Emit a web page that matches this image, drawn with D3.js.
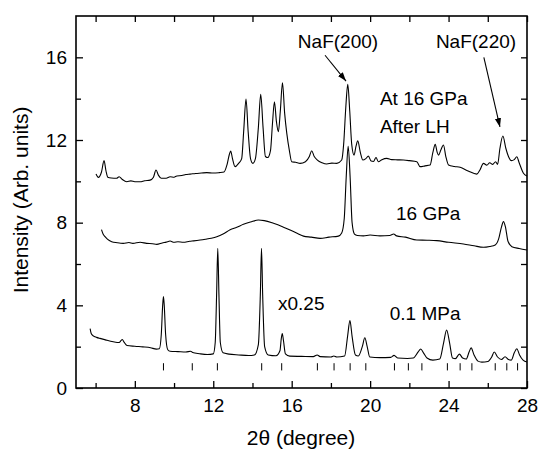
<!DOCTYPE html>
<html>
<head>
<meta charset="utf-8">
<script src="https://cdn.jsdelivr.net/npm/d3@7"></script>
<style>
  html, body { margin: 0; padding: 0; background: #fff; }
  svg { display: block; }
  text { font-family: "Liberation Sans", Arial, Helvetica, sans-serif; fill: #000; }
</style>
</head>
<body>
<svg id="chart" width="539" height="452"></svg>
<script>
// XRD patterns: [2θ (degree), intensity (arb. units)]
const ambientPattern = [ // 0.1 MPa, scaled x0.25
  [5.72,2.87],[5.78,2.62],[5.88,2.52],[6.05,2.45],[6.22,2.40],[6.5,2.33],[6.9,2.24],[7.2,2.2],[7.3,2.3],[7.36,2.35],
  [7.45,2.22],[7.6,2.06],[8.0,2.02],[8.4,1.99],[8.8,1.95],[9.1,1.88],[9.25,1.9],[9.35,2.6],[9.42,4.0],[9.46,4.42],
  [9.5,4.0],[9.57,2.6],[9.68,1.85],[9.8,1.78],[10.2,1.76],[10.6,1.74],[10.85,1.78],[10.95,1.72],[11.3,1.66],[11.7,1.62],
  [12.0,1.65],[12.1,2.2],[12.17,4.5],[12.23,6.76],[12.29,4.5],[12.36,2.2],[12.5,1.7],[12.8,1.64],[13.3,1.6],[13.8,1.57],
  [14.1,1.6],[14.3,2.1],[14.4,4.5],[14.46,6.76],[14.52,4.5],[14.62,2.0],[14.8,1.6],[15.2,1.56],[15.4,1.8],[15.47,2.4],
  [15.52,2.64],[15.58,2.3],[15.68,1.65],[15.9,1.54],[16.5,1.53],[17.1,1.52],[17.3,1.6],[17.45,1.52],[18.0,1.5],[18.15,1.55],
  [18.3,1.5],[18.7,1.55],[18.85,2.5],[18.97,3.26],[19.08,2.5],[19.25,1.6],[19.4,1.55],[19.6,2.0],[19.73,2.43],[19.85,2.0],
  [19.98,1.5],[20.5,1.47],[21.05,1.48],[21.22,1.58],[21.4,1.45],[21.9,1.43],[22.2,1.45],[22.45,1.75],[22.58,1.89],[22.72,1.7],
  [22.9,1.45],[23.2,1.35],[23.55,1.4],[23.75,2.2],[23.9,2.81],[24.05,2.2],[24.2,1.45],[24.35,1.42],[24.55,1.64],[24.72,1.45],
  [24.9,1.4],[25.05,1.75],[25.15,1.94],[25.3,1.6],[25.5,1.3],[25.7,1.25],[26.0,1.28],[26.2,1.5],[26.33,1.74],[26.5,1.5],
  [26.7,1.38],[26.88,1.51],[27.05,1.38],[27.2,1.35],[27.35,1.7],[27.48,1.9],[27.62,1.6],[27.8,1.35],[28.0,1.26]
];

const compressedPattern = [ // 16 GPa
  [6.3,7.66],[6.38,7.45],[6.48,7.32],[6.6,7.2],[6.82,7.08],[7.1,7.03],[7.41,7.0],[7.7,7.04],[7.9,7.0],[8.27,7.05],
  [8.6,7.0],[8.9,6.98],[9.12,6.95],[9.4,7.02],[9.6,7.06],[9.8,7.11],[10.0,7.05],[10.2,7.08],[10.47,7.05],[10.8,7.1],
  [11.0,7.12],[11.33,7.16],[11.6,7.2],[11.9,7.25],[12.18,7.32],[12.5,7.45],[12.86,7.66],[13.2,7.78],[13.54,7.92],[13.9,8.03],
  [14.3,8.13],[14.6,8.1],[15.07,7.97],[15.5,7.82],[15.92,7.64],[16.3,7.48],[16.6,7.35],[17.0,7.3],[17.45,7.24],[17.9,7.3],
  [18.38,7.35],[18.55,7.5],[18.68,8.2],[18.78,10.2],[18.88,11.7],[18.98,10.2],[19.08,8.0],[19.2,7.45],[19.35,7.38],[19.66,7.36],
  [20.0,7.4],[20.5,7.36],[21.0,7.38],[21.2,7.45],[21.35,7.36],[21.8,7.3],[22.38,7.16],[22.9,7.15],[23.4,7.13],[24.0,7.05],
  [24.76,6.97],[25.3,6.88],[25.78,6.81],[26.1,6.85],[26.38,6.92],[26.55,7.2],[26.7,7.8],[26.8,8.05],[26.9,7.8],[27.03,7.1],
  [27.23,6.84],[27.6,6.75],[28.0,6.68]
];

const heatedPattern = [ // at 16 GPa after laser heating
  [6.02,10.35],[6.14,10.19],[6.3,10.45],[6.43,11.0],[6.53,10.5],[6.62,10.2],[6.8,10.16],[7.07,10.15],[7.2,10.22],[7.35,10.1],
  [7.59,9.98],[7.8,10.02],[8.0,9.98],[8.27,9.98],[8.5,10.03],[8.78,10.06],[8.95,10.2],[9.08,10.55],[9.2,10.3],[9.35,10.15],
  [9.6,10.15],[9.8,10.22],[10.0,10.2],[10.14,10.26],[10.4,10.28],[10.6,10.33],[10.82,10.35],[11.1,10.38],[11.4,10.4],[11.67,10.42],
  [12.0,10.4],[12.3,10.42],[12.55,10.45],[12.7,10.8],[12.82,11.3],[12.89,11.47],[12.98,11.1],[13.11,10.71],[13.3,10.88],[13.45,11.1],
  [13.55,12.4],[13.67,13.98],[13.78,12.4],[13.9,11.1],[14.02,10.87],[14.15,11.1],[14.3,12.6],[14.42,14.21],[14.54,12.6],[14.66,11.2],
  [14.78,11.15],[14.92,11.5],[15.02,12.8],[15.12,13.85],[15.22,12.9],[15.32,12.4],[15.42,13.4],[15.53,14.77],[15.64,13.3],[15.75,12.32],
  [15.88,11.5],[16.0,10.95],[16.2,10.92],[16.43,10.87],[16.7,10.95],[16.9,11.2],[17.02,11.48],[17.15,11.2],[17.31,11.03],[17.55,10.9],
  [17.79,10.84],[18.05,10.88],[18.3,10.87],[18.55,11.03],[18.65,11.8],[18.76,13.6],[18.86,14.69],[18.96,13.4],[19.06,11.8],[19.18,11.27],
  [19.28,11.7],[19.37,11.96],[19.5,11.4],[19.63,11.03],[19.78,11.1],[19.91,11.22],[20.05,10.98],[20.17,10.96],[20.3,11.15],[20.42,10.95],
  [20.6,11.05],[20.85,11.11],[21.1,11.05],[21.4,11.04],[21.7,11.03],[22.0,11.0],[22.38,10.95],[22.55,10.71],[22.8,10.75],[23.06,10.79],
  [23.2,11.4],[23.32,11.79],[23.42,11.4],[23.49,11.27],[23.6,11.5],[23.74,11.76],[23.86,11.2],[24.0,10.79],[24.3,10.72],[24.59,10.68],
  [25.0,10.5],[25.44,10.35],[25.6,10.55],[25.78,10.87],[25.95,10.78],[26.1,10.9],[26.25,10.82],[26.4,10.95],[26.5,10.82],[26.62,11.6],
  [26.77,12.19],[26.92,11.6],[27.06,11.19],[27.2,11.0],[27.35,11.05],[27.48,11.19],[27.6,10.9],[27.82,10.39],[28.0,10.26]
];

// Reflection markers under the ambient pattern (2θ positions)
const reflectionPositions = [9.46,10.93,12.21,14.47,15.49,17.31,18.16,18.98,19.78,21.24,21.95,22.64,23.94,24.59,25.19,26.38,26.97,27.52];
const reflectionRange = [0.85, 1.2];

// Axis ticks
const xMajorTicks = [8,12,16,20,24,28];
const xMinorTicks = [6,10,14,18,22,26];
const yMajorTicks = [0,4,8,12,16];
const yMinorTicks = [2,6,10,14];

// Labels
const curveLabels = [
  { text: "At 16 GPa", x: 20.5, y: 13.69 },
  { text: "After LH",  x: 20.5, y: 12.34 },
  { text: "16 GPa",    x: 21.32, y: 8.13 },
  { text: "x0.25",     x: 15.3, y: 3.77 },
  { text: "0.1 MPa",   x: 21.0, y: 3.29 }
];
const peakNotes = [
  { text: "NaF(200)", tx: 18.36, ty: 16.45, from: [17.7, 16.1], to: [18.77, 14.85] },
  { text: "NaF(220)", tx: 25.4,  ty: 16.45, from: [25.8, 16.0], to: [26.62, 12.63] }
];

const svg = d3.select("#chart");
const x = d3.scaleLinear().domain([5, 28]).range([76, 527]);
const y = d3.scaleLinear().domain([0, 18]).range([388, 16]);
const FS = 19;

svg.append("defs").append("marker")
  .attr("id", "arrow").attr("viewBox", "0 0 10 10")
  .attr("refX", 10).attr("refY", 5)
  .attr("markerWidth", 9).attr("markerHeight", 9)
  .attr("markerUnits", "userSpaceOnUse")
  .attr("orient", "auto")
  .append("path").attr("d", "M0,1.5 L10,5 L0,8.5 Z").attr("fill", "#000");

// Patterns
const line = d3.line().x(d => x(d[0])).y(d => y(d[1])).curve(d3.curveMonotoneX);
[ambientPattern, compressedPattern, heatedPattern].forEach(data => {
  svg.append("path").datum(data)
    .attr("d", line)
    .attr("fill", "none").attr("stroke", "#000").attr("stroke-width", 1.1)
    .attr("stroke-linejoin", "round");
});

// Reflection markers
svg.append("g").selectAll("line").data(reflectionPositions).join("line")
  .attr("x1", d => x(d)).attr("x2", d => x(d))
  .attr("y1", y(reflectionRange[0])).attr("y2", y(reflectionRange[1]))
  .attr("stroke", "#000").attr("stroke-width", 1);

// Axes with inward ticks
function styleAxis(g) {
  g.select(".domain").remove();
  g.selectAll(".tick line").attr("stroke", "#000").attr("stroke-width", 1.3);
  g.selectAll("text").style("font-size", FS + "px").attr("fill", "#000");
}
const H = y(0), T = y(18), L = x(5), R = x(28);

svg.append("g").attr("transform", `translate(0,${H})`)
  .call(d3.axisBottom(x).tickValues(xMajorTicks).tickSize(-7).tickPadding(11).tickFormat(d3.format("d")))
  .call(styleAxis);
svg.append("g").attr("transform", `translate(0,${H})`)
  .call(d3.axisBottom(x).tickValues(xMinorTicks).tickSize(-5).tickFormat(""))
  .call(styleAxis);
svg.append("g").attr("transform", `translate(0,${T})`)
  .call(d3.axisTop(x).tickValues(xMajorTicks.concat(xMinorTicks)).tickSize(-6).tickFormat(""))
  .call(styleAxis);

svg.append("g").attr("transform", `translate(${L},0)`)
  .call(d3.axisLeft(y).tickValues(yMajorTicks).tickSize(-7).tickPadding(9).tickFormat(d3.format("d")))
  .call(styleAxis);
svg.append("g").attr("transform", `translate(${L},0)`)
  .call(d3.axisLeft(y).tickValues(yMinorTicks).tickSize(-5).tickFormat(""))
  .call(styleAxis);
svg.append("g").attr("transform", `translate(${R},0)`)
  .call(d3.axisRight(y).tickValues(yMajorTicks.concat(yMinorTicks)).tickSize(-6).tickFormat(""))
  .call(styleAxis);

// Frame
svg.append("rect").attr("x", L).attr("y", T).attr("width", R - L).attr("height", H - T)
  .attr("fill", "none").attr("stroke", "#000").attr("stroke-width", 1.6);

// Axis titles
svg.append("text").attr("x", 301).attr("y", 445).attr("text-anchor", "middle")
  .style("font-size", "21px").text("2θ (degree)");
svg.append("text").attr("transform", "translate(28,200) rotate(-90)").attr("text-anchor", "middle")
  .style("font-size", "21px").text("Intensity (Arb. units)");

// Curve labels
svg.append("g").selectAll("text").data(curveLabels).join("text")
  .attr("x", d => x(d.x)).attr("y", d => y(d.y))
  .style("font-size", FS + "px").text(d => d.text);

// Peak annotations with arrows
const notes = svg.append("g");
peakNotes.forEach(n => {
  notes.append("text").attr("x", x(n.tx)).attr("y", y(n.ty)).attr("text-anchor", "middle")
    .style("font-size", FS + "px").text(n.text);
  notes.append("line")
    .attr("x1", x(n.from[0])).attr("y1", y(n.from[1]))
    .attr("x2", x(n.to[0])).attr("y2", y(n.to[1]))
    .attr("stroke", "#000").attr("stroke-width", 1.1)
    .attr("marker-end", "url(#arrow)");
});
</script>
</body>
</html>
